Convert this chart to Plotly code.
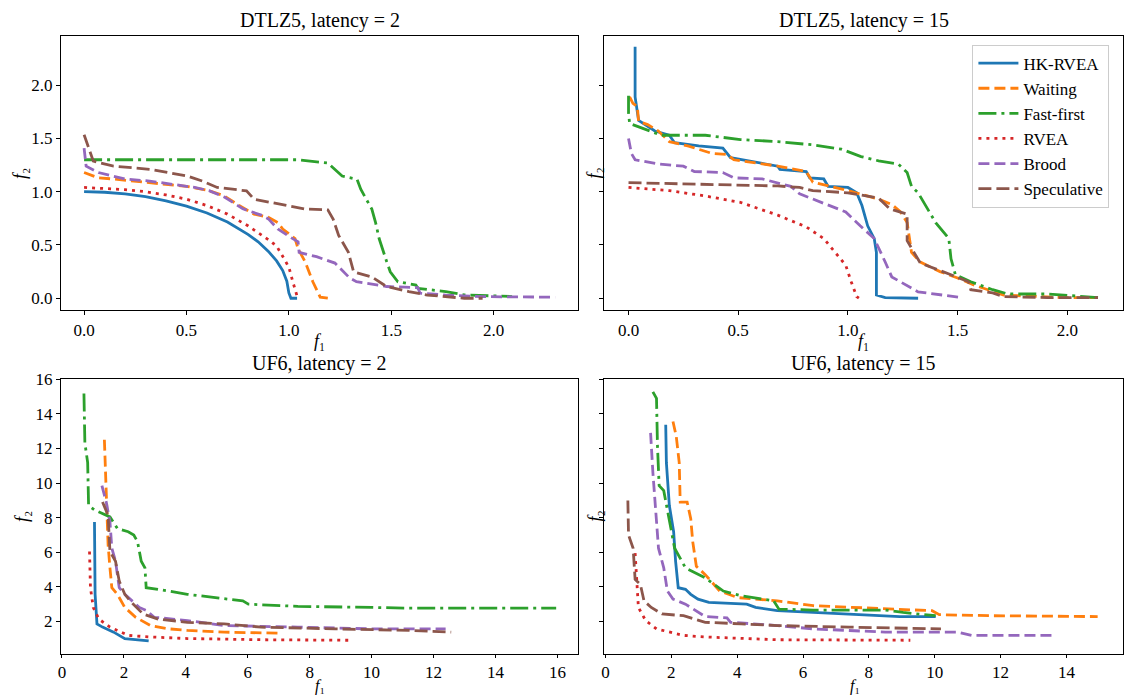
import plotly.graph_objects as go

# ---------------- data: DTLZ5, latency = 2 ----------------
d2_hk_f1 = [0, 0.1, 0.2, 0.3, 0.4, 0.5, 0.6, 0.7, 0.8, 0.85, 0.9, 0.94, 0.97, 0.99, 1.0, 1.01, 1.04]
d2_hk_f2 = [1.0, 0.995, 0.98, 0.955, 0.915, 0.865, 0.8, 0.715, 0.6, 0.53, 0.44, 0.35, 0.26, 0.16, 0.05, 0.0, 0.0]
d2_wait_f1 = [0, 0.07, 0.14, 0.32, 0.5, 0.61, 0.685, 0.757, 0.83, 0.9, 0.946, 0.97, 1.03, 1.045, 1.08, 1.117, 1.153, 1.19]
d2_wait_f2 = [1.18, 1.13, 1.12, 1.085, 1.05, 1.01, 0.96, 0.87, 0.79, 0.76, 0.71, 0.65, 0.56, 0.465, 0.34, 0.155, 0.01, 0.0]
d2_fast_f1 = [0, 0.5, 1.045, 1.19, 1.26, 1.333, 1.351, 1.405, 1.423, 1.441, 1.46, 1.478, 1.495, 1.532, 1.62, 1.63, 1.766, 1.856, 2.09]
d2_fast_f2 = [1.30, 1.30, 1.30, 1.27, 1.147, 1.116, 1.023, 0.837, 0.713, 0.558, 0.434, 0.341, 0.248, 0.155, 0.124, 0.093, 0.062, 0.031, 0.016]
d2_rvea_f1 = [0, 0.1, 0.2, 0.3, 0.4, 0.5, 0.6, 0.7, 0.8, 0.9, 0.94, 0.98, 1.0, 1.02, 1.04, 1.05]
d2_rvea_f2 = [1.04, 1.03, 1.02, 1.0, 0.97, 0.93, 0.87, 0.79, 0.68, 0.55, 0.49, 0.36, 0.29, 0.15, 0.02, 0.0]
d2_brood_f1 = [0, 0.01, 0.07, 0.2, 0.32, 0.505, 0.54, 0.61, 0.685, 0.775, 0.865, 0.9, 0.946, 1.01, 1.045, 1.05, 1.135, 1.225, 1.297, 1.33, 1.477, 1.63, 1.64, 1.766, 1.946, 2.3]
d2_brood_f2 = [1.41, 1.24, 1.18, 1.12, 1.1, 1.05, 1.04, 1.01, 0.95, 0.84, 0.78, 0.745, 0.65, 0.57, 0.53, 0.43, 0.39, 0.33, 0.19, 0.155, 0.11, 0.1, 0.047, 0.03, 0.015, 0.01]
d2_spec_f1 = [0, 0.027, 0.045, 0.144, 0.324, 0.505, 0.577, 0.65, 0.793, 0.83, 0.955, 1.08, 1.19, 1.216, 1.243, 1.29, 1.316, 1.405, 1.477, 1.586, 1.676, 1.856, 1.946]
d2_spec_f2 = [1.535, 1.395, 1.287, 1.24, 1.21, 1.147, 1.1, 1.04, 1.008, 0.93, 0.884, 0.837, 0.83, 0.744, 0.59, 0.434, 0.248, 0.2, 0.11, 0.062, 0.03, 0.0, 0.0]

# ---------------- data: DTLZ5, latency = 15 ----------------
d15_hk_f1 = [0.03, 0.03, 0.046, 0.12, 0.186, 0.21, 0.32, 0.43, 0.465, 0.58, 0.68, 0.69, 0.81, 0.826, 0.89, 0.91, 1.0, 1.04, 1.064, 1.09, 1.12, 1.13, 1.13, 1.17, 1.32]
d15_hk_f2 = [2.36, 1.89, 1.67, 1.57, 1.53, 1.46, 1.43, 1.41, 1.32, 1.28, 1.24, 1.21, 1.19, 1.13, 1.12, 1.05, 1.04, 0.99, 0.87, 0.68, 0.56, 0.43, 0.03, 0.006, 0.0]
d15_wait_f1 = [0.005, 0.02, 0.04, 0.046, 0.087, 0.136, 0.186, 0.27, 0.38, 0.45, 0.48, 0.68, 0.81, 0.84, 1.0, 1.14, 1.2, 1.24, 1.27, 1.28, 1.29, 1.33, 1.42, 1.5, 1.58, 1.71, 1.99, 2.14]
d15_wait_f2 = [1.89, 1.83, 1.8, 1.66, 1.63, 1.57, 1.47, 1.43, 1.36, 1.35, 1.30, 1.24, 1.19, 1.09, 1.01, 0.93, 0.88, 0.81, 0.71, 0.56, 0.43, 0.34, 0.25, 0.19, 0.12, 0.03, 0.006, 0.006]
d15_fast_f1 = [0, 0, 0.005, 0.087, 0.15, 0.27, 0.35, 0.51, 0.68, 0.84, 0.97, 1.06, 1.14, 1.23, 1.27, 1.29, 1.32, 1.4, 1.46, 1.47, 1.49, 1.56, 1.66, 1.73, 1.91, 2.14]
d15_fast_f2 = [1.9, 1.74, 1.64, 1.58, 1.53, 1.53, 1.53, 1.49, 1.47, 1.44, 1.40, 1.33, 1.29, 1.26, 1.18, 1.05, 0.99, 0.71, 0.56, 0.37, 0.22, 0.155, 0.08, 0.04, 0.04, 0.006]
d15_rvea_f1 = [0, 0.186, 0.35, 0.51, 0.68, 0.81, 0.89, 0.94, 0.99, 1.015, 1.04, 1.05]
d15_rvea_f2 = [1.04, 1.01, 0.96, 0.90, 0.78, 0.67, 0.56, 0.43, 0.31, 0.155, 0.015, 0.0]
d15_brood_f1 = [0, 0.013, 0.03, 0.136, 0.25, 0.3, 0.43, 0.48, 0.61, 0.74, 0.78, 0.875, 0.99, 1.056, 1.12, 1.17, 1.2, 1.32, 1.42, 1.52]
d15_brood_f2 = [1.50, 1.36, 1.30, 1.26, 1.24, 1.19, 1.18, 1.13, 1.12, 1.05, 0.98, 0.90, 0.81, 0.68, 0.56, 0.34, 0.2, 0.06, 0.03, 0.006]
d15_spec_f1 = [0, 0.35, 0.68, 0.78, 0.84, 1.0, 1.14, 1.19, 1.27, 1.27, 1.30, 1.33, 1.47, 1.55, 1.56, 1.66, 1.71, 1.91, 2.14]
d15_spec_f2 = [1.085, 1.07, 1.054, 1.04, 1.01, 0.99, 0.94, 0.84, 0.79, 0.54, 0.43, 0.33, 0.22, 0.155, 0.08, 0.05, 0.015, 0.006, 0.006]

# ---------------- data: UF6, latency = 2 ----------------
u2_hk_f1 = [1.05, 1.07, 1.13, 1.31, 1.67, 2.03, 2.8]
u2_hk_f2 = [7.75, 3.56, 1.85, 1.66, 1.37, 0.99, 0.86]
u2_wait_f1 = [1.37, 1.43, 1.49, 1.55, 1.61, 1.79, 2.03, 2.38, 2.86, 3.45, 4.05, 5.24, 7.03]
u2_wait_f2 = [12.51, 9.28, 6.42, 5.09, 3.94, 3.56, 2.8, 2.23, 1.75, 1.56, 1.47, 1.37, 1.31]
u2_fast_f1 = [0.71, 0.74, 0.83, 0.86, 1.07, 1.55, 1.79, 2.14, 2.32, 2.44, 2.56, 2.68, 2.72, 3.1, 4.05, 5.84, 6.02, 7.62, 10.0, 11.2, 15.96]
u2_fast_f2 = [15.18, 12.32, 11.18, 8.7, 8.42, 8.04, 7.37, 7.18, 6.99, 6.61, 5.47, 5.09, 3.94, 3.85, 3.56, 3.18, 2.99, 2.86, 2.8, 2.76, 2.76]
u2_rvea_f1 = [0.89, 0.92, 1.01, 1.19, 1.55, 2.14, 2.86, 4.05, 6.43, 9.29]
u2_rvea_f2 = [6.04, 3.94, 2.8, 2.13, 1.66, 1.18, 1.09, 1.0, 0.93, 0.9]
u2_brood_f1 = [1.29, 1.43, 1.55, 1.61, 1.73, 1.85, 2.03, 2.26, 2.5, 2.74, 2.98, 4.05, 5.24, 7.62, 10.0, 12.39]
u2_brood_f2 = [9.85, 8.9, 7.75, 6.23, 5.47, 3.94, 3.56, 3.18, 2.8, 2.61, 2.23, 2.04, 1.75, 1.66, 1.56, 1.56]
u2_spec_f1 = [1.31, 1.49, 1.55, 1.73, 1.85, 2.03, 2.2, 2.62, 3.1, 4.05, 5.24, 6.43, 8.82, 11.2, 12.57]
u2_spec_f2 = [8.9, 8.13, 6.04, 5.47, 4.32, 3.56, 3.18, 2.42, 2.13, 1.94, 1.85, 1.66, 1.56, 1.47, 1.37]

# ---------------- data: UF6, latency = 15 ----------------
u15_hk_f1 = [1.83, 1.85, 1.94, 2.07, 2.13, 2.21, 2.43, 2.59, 2.81, 3.14, 4.29, 4.56, 5.22, 7.4, 8.94, 10.03]
u15_hk_f2 = [13.37, 11.18, 8.7, 7.18, 5.47, 3.94, 3.85, 3.56, 3.28, 3.09, 2.99, 2.8, 2.61, 2.42, 2.27, 2.27]
u15_wait_f1 = [2.05, 2.15, 2.24, 2.27, 2.48, 2.59, 2.65, 2.76, 3.03, 3.47, 4.01, 5.22, 6.31, 8.5, 9.92, 10.14, 11.78, 14.95]
u15_wait_f2 = [13.56, 12.7, 11.18, 8.9, 8.9, 7.94, 6.61, 5.18, 4.7, 3.75, 3.37, 3.18, 2.9, 2.7, 2.61, 2.38, 2.32, 2.27]
u15_fast_f1 = [1.44, 1.55, 1.58, 1.63, 1.77, 1.94, 2.1, 2.43, 3.03, 3.58, 4.12, 5.11, 5.27, 6.31, 8.5, 9.04, 10.03]
u15_fast_f2 = [15.28, 14.9, 12.13, 9.85, 9.56, 7.94, 6.23, 5.09, 4.51, 3.75, 3.47, 3.18, 2.7, 2.65, 2.65, 2.51, 2.32]
u15_rvea_f1 = [0.9, 0.95, 1.0, 1.22, 1.55, 2.37, 3.03, 5.22, 9.26]
u15_rvea_f2 = [5.94, 4.32, 2.8, 2.04, 1.56, 1.18, 1.09, 0.93, 0.9]
u15_brood_f1 = [1.37, 1.44, 1.61, 1.77, 1.88, 2.05, 2.43, 3.03, 3.69, 3.8, 5.22, 6.31, 8.5, 10.69, 11.12, 13.58]
u15_brood_f2 = [12.9, 10.61, 6.23, 5.09, 3.75, 3.28, 2.99, 2.27, 2.19, 1.94, 1.75, 1.56, 1.37, 1.37, 1.18, 1.18]
u15_spec_f1 = [0.68, 0.7, 0.84, 0.9, 1.06, 1.17, 1.39, 1.72, 2.37, 3.03, 4.12, 5.22, 7.4, 10.19]
u15_spec_f2 = [8.99, 6.99, 6.23, 4.42, 4.13, 3.18, 2.8, 2.42, 2.32, 1.94, 1.85, 1.75, 1.66, 1.56]

methods = ["HK-RVEA", "Waiting", "Fast-first", "RVEA", "Brood", "Speculative"]
colors = ["#1f77b4", "#ff7f0e", "#2ca02c", "#d62728", "#9467bd", "#8c564b"]
dashes = ["solid", "11px,5px", "18px,5px,3px,5px", "3px,5px", "11px,5px", "13px,5px"]

panel_titles = ["DTLZ5, latency = 2", "DTLZ5, latency = 15", "UF6, latency = 2", "UF6, latency = 15"]

panels = [
    [(d2_hk_f1, d2_hk_f2), (d2_wait_f1, d2_wait_f2), (d2_fast_f1, d2_fast_f2),
     (d2_rvea_f1, d2_rvea_f2), (d2_brood_f1, d2_brood_f2), (d2_spec_f1, d2_spec_f2)],
    [(d15_hk_f1, d15_hk_f2), (d15_wait_f1, d15_wait_f2), (d15_fast_f1, d15_fast_f2),
     (d15_rvea_f1, d15_rvea_f2), (d15_brood_f1, d15_brood_f2), (d15_spec_f1, d15_spec_f2)],
    [(u2_hk_f1, u2_hk_f2), (u2_wait_f1, u2_wait_f2), (u2_fast_f1, u2_fast_f2),
     (u2_rvea_f1, u2_rvea_f2), (u2_brood_f1, u2_brood_f2), (u2_spec_f1, u2_spec_f2)],
    [(u15_hk_f1, u15_hk_f2), (u15_wait_f1, u15_wait_f2), (u15_fast_f1, u15_fast_f2),
     (u15_rvea_f1, u15_rvea_f2), (u15_brood_f1, u15_brood_f2), (u15_spec_f1, u15_spec_f2)],
]

W, H = 1126, 697
FONT = "Liberation Serif"

# panel boxes in pixels: (left, right, top, bottom)
boxes = [(58, 577, 28, 306), (603, 1123, 28, 306), (58, 577, 375, 653), (603, 1123, 375, 653)]
xranges = [[-0.1135, 2.414], [-0.110, 2.254], [-0.036, 16.68], [-0.033, 15.72]]
yranges = [[-0.115, 2.465], [-0.115, 2.465], [0.133, 16.04], [0.133, 16.04]]
xticks = [[0, 0.5, 1.0, 1.5, 2.0], [0, 0.5, 1.0, 1.5, 2.0], list(range(0, 17, 2)), list(range(0, 15, 2))]
yticks = [[0, 0.5, 1.0, 1.5, 2.0], [0, 0.5, 1.0, 1.5, 2.0], list(range(2, 17, 2)), list(range(2, 17, 2))]
tickfmt = [".1f", ".1f", "d", "d"]
f2_label_x = [17, 593, 19, 594]
f1_label_dx = [0, 0, 0, -9]
F1 = "<i>f</i>\u2081"
F2 = "<i>f</i>\u2082"

fig = go.Figure()
for p in range(4):
    ax = "" if p == 0 else str(p + 1)
    for m in range(6):
        xs, ys = panels[p][m]
        fig.add_trace(go.Scatter(
            x=xs, y=ys, mode="lines", name=methods[m],
            line=dict(color=colors[m], width=2.8, dash=dashes[m]),
            showlegend=(p == 1), legendgroup=methods[m],
            xaxis="x" + ax, yaxis="y" + ax,
        ))
    l, r, t, b = boxes[p]
    common = dict(showline=True, linecolor="black", linewidth=1, mirror=True,
                  ticks="outside", tickcolor="black", showgrid=False,
                  zeroline=False, tickfont=dict(family=FONT, size=17, color="black"))
    fig.update_layout(**{
        "xaxis" + ax: dict(domain=[l / W, r / W], range=xranges[p], tickvals=xticks[p],
                           tickformat=tickfmt[p], anchor="y" + ax,
                           ticklen=(4 if p < 2 else 3), **common),
        "yaxis" + ax: dict(domain=[1 - b / H, 1 - t / H], range=yranges[p], tickvals=yticks[p],
                           tickformat=tickfmt[p], anchor="x" + ax, ticklen=4,
                           showticklabels=(p % 2 == 0), **common),
    })
    # panel title
    fig.add_annotation(text=panel_titles[p], xref="paper", yref="paper",
                       x=(l + r) / 2 / W, y=1 - (t - 15) / H, xanchor="center", yanchor="middle",
                       showarrow=False, font=dict(family=FONT, size=20, color="black"))
    # x-axis label
    if p < 2:
        fig.add_annotation(text=F1, xref="paper", yref="paper",
                           x=(l + r) / 2 / W, y=1 - 337 / H, xanchor="center", yanchor="middle",
                           showarrow=False, font=dict(family=FONT, size=18, color="black"))
    else:
        fig.add_annotation(text=F1, xref="paper", yref="paper",
                           x=((l + r) / 2 + f1_label_dx[p]) / W, y=0, xanchor="center", yanchor="bottom",
                           showarrow=False, font=dict(family=FONT, size=16, color="black"))
    # y-axis label
    fig.add_annotation(text=F2, xref="paper", yref="paper", textangle=-90,
                       x=f2_label_x[p] / W, y=1 - (t + b) / 2 / H, xanchor="center", yanchor="middle",
                       showarrow=False, font=dict(family=FONT, size=18, color="black"))

fig.update_layout(
    width=W, height=H, margin=dict(l=0, r=0, t=0, b=0),
    paper_bgcolor="white", plot_bgcolor="white",
    legend=dict(x=972 / W, y=1 - 37 / H, xanchor="left", yanchor="top",
                bgcolor="rgba(255,255,255,0.85)", bordercolor="#cccccc", borderwidth=1,
                font=dict(family=FONT, size=17, color="black"), tracegroupgap=0,
                itemwidth=40),
)

fig.write_html("out.html", config={"displayModeBar": False},
               post_script="document.body.style.margin='0';document.body.style.padding='0';"
                           "document.body.style.overflow='hidden';")
